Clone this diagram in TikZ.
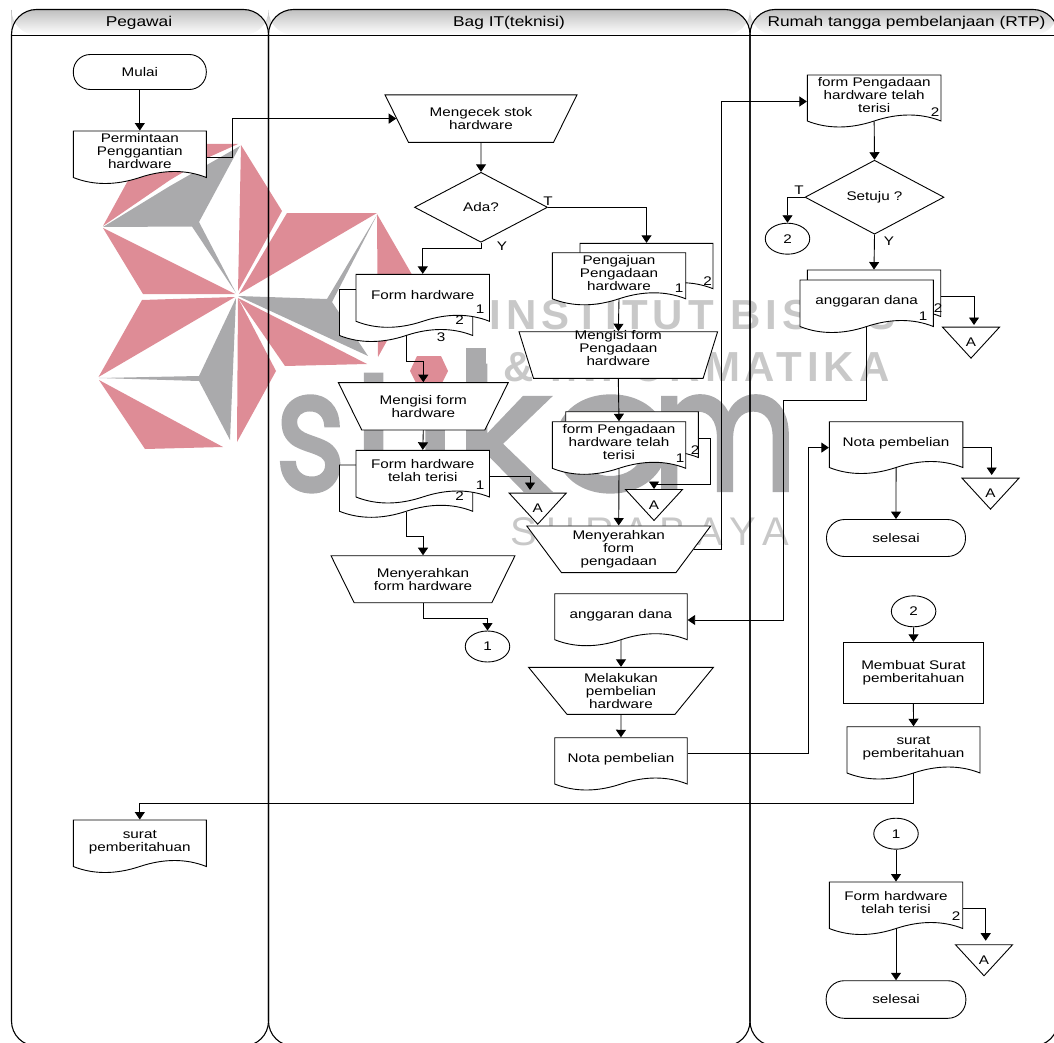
\documentclass[tikz,border=0pt]{standalone}
\usepackage{fontspec}
\setmainfont[FakeStretch=1.22]{Liberation Sans}
\newfontfamily\wmfont{Liberation Sans}
\newfontfamily\logofont[FakeBold=2.5]{Poppins}
\usetikzlibrary{shapes.geometric,arrows.meta}
\definecolor{wmpink}{RGB}{222,140,150}
\definecolor{wmgray}{RGB}{170,170,172}
\definecolor{wmlight}{RGB}{200,200,200}
\newcommand{\lift}[2]{\raisebox{#1pt}[5pt][5pt]{\begin{tabular}{@{}c@{}}#2\end{tabular}}}
\newcommand{\docnode}[6]{%
  \draw[fill=white] (#2,#3) -- (#2+#4,#3) -- (#2+#4,#5)
    .. controls (#2+.85*#4,#5-8) and (#2+.68*#4,#5-8) .. (#2+.5*#4,#5)
    .. controls (#2+.32*#4,#5+8) and (#2+.15*#4,#5+8) .. (#2,#5) -- cycle;
  \node[flowtext,minimum width=#4 pt,minimum height={(#5-#3)*1pt}] (#1) at (#2+.5*#4,{(#3+#5)/2}) {\lift{-2}{#6}};
}
\tikzset{
  flowtext/.style={inner sep=0pt,font=\fontsize{12.5}{13}\selectfont,align=center},
  headtext/.style={inner sep=0pt,font=\fontsize{14.2}{15}\selectfont},
  lane/.style={draw=black,line width=1.1pt,rounded corners=25pt},
  lanehead/.style={top color=black!25,bottom color=white,rounded corners=25pt},
  manual/.style={flowtext,draw,fill=white,trapezium,shape border rotate=180,trapezium stretches=true,trapezium left angle=53.3,trapezium right angle=53.3},
  decide/.style={flowtext,draw,fill=white,diamond,aspect=1.9},
  terminal/.style={flowtext,draw,fill=white,rounded corners=17pt,minimum width=133pt,minimum height=35pt},
  connect/.style={flowtext,draw,fill=white,ellipse,minimum width=44.5pt,minimum height=31pt},
  process/.style={flowtext,draw,fill=white},
  offpage/.style={flowtext,draw,fill=white,isosceles triangle,isosceles triangle stretches=true,shape border rotate=-90,minimum width=57pt,minimum height=31pt},
  arrow/.style={draw,-{Triangle[length=7.5pt,width=10pt]}}
}
\begin{document}
\begin{tikzpicture}[x=1pt,y=-1pt,line width=0.9pt]
  \useasboundingbox (0,0) rectangle (1054,1043);
  \clip (0,0) rectangle (1054,1043);

  % watermark star
  \fill[wmpink] (103,226) -- (148,144) -- (238,144) -- (207,158) -- (170,180) -- cycle;
  \fill[wmgray] (103,227) -- (170,186) -- (240,146) -- (199,222) -- (236,293) -- (192,226.5) -- cycle;
  \fill[wmpink] (103,228) -- (143,294) -- (235,294) -- cycle;
  \fill[wmpink] (241,145) -- (282,211) -- (238,291) -- cycle;
  \fill[wmpink] (287,213) -- (377,213) -- (239,294) -- cycle;
  \fill[wmpink] (377,214) -- (418,285) -- (378,357) -- cycle;
  \fill[wmgray] (238,296) -- (327,299) -- (377,215) -- (332,302) -- (368,356) -- cycle;
  \fill[wmpink] (238,298) -- (367,364) -- (285,366) -- cycle;
  \fill[wmpink] (238,298) -- (276,371) -- (237,442) -- cycle;
  \fill[wmgray] (236,298) -- (199,376) -- (99,378) -- (199,381) -- (230,440) -- cycle;
  \fill[wmpink] (142,300) -- (235,297) -- (98.5,377) -- cycle;
  \fill[wmpink] (99,380) -- (223,447) -- (145,449) -- cycle;
  \fill[wmpink] (417,356) -- (441,356) -- (448,371) -- (441,385) -- (417,385) -- (410,371) -- cycle;

  % watermark text
  \node[anchor=base west,inner sep=0pt,text=wmgray] (wmlogo) at (275,490) {\fontsize{168}{170}\logofont\scalebox{.8}[1]{s}\kern4pt t\kern4pt ı\kern-2pt \scalebox{1.1}[1]{k}\scalebox{1.15}[1]{o}\kern-21pt\scalebox{.84}[1]{m}};
  \fill[wmgray] (466,348) rectangle (486,372);
  \node[anchor=base west,inner sep=0pt,text=wmlight] (wmline1) at (489,329) {\fontsize{42}{44}\wmfont\bfseries\addfontfeature{LetterSpace=12}INSTITUT BISNIS};
  \node[anchor=base west,inner sep=0pt,text=wmlight] (wmline2) at (503,381) {\fontsize{42}{44}\wmfont\bfseries\addfontfeature{LetterSpace=11.5}\& INFORMATIKA};
  \node[anchor=base west,inner sep=0pt,text=wmlight] (wmline3) at (510,545) {\fontsize{40}{42}\wmfont\addfontfeature{LetterSpace=24}SURABAYA};

  % lanes
  \shade[lanehead] (11.5,35) -- (11.5,9.5) -- (268.5,9.5) -- (268.5,35) -- cycle;
  \shade[lanehead] (268.5,35) -- (268.5,9.5) -- (750,9.5) -- (750,35) -- cycle;
  \shade[lanehead] (750,35) -- (750,9.5) -- (1058,9.5) -- (1058,35) -- cycle;
  \draw[lane] (11.5,1046) -- (11.5,9.5) -- (268.5,9.5) -- (268.5,1046) -- cycle;
  \draw[lane] (268.5,1046) -- (268.5,9.5) -- (750,9.5) -- (750,1046) -- cycle;
  \draw[lane] (750,1046) -- (750,9.5) -- (1058,9.5) -- (1058,1046) -- cycle;
  \draw (11.5,35) -- (1058,35);
  \node[headtext] (headpeg) at (139,23) {Pegawai};
  \node[headtext] (headit) at (509,23) {Bag IT(teknisi)};
  \node[headtext] (headrtp) at (906.5,23) {Rumah tangga pembelanjaan (RTP)};

  % Pegawai
  \node[terminal] (mulai) at (139.8,72) {Mulai};
  \docnode{perm}{73.3}{131}{133}{177.5}{Permintaan\\Penggantian\\hardware}
  \docnode{suratpeg}{73.3}{820}{133}{866.5}{surat\\pemberitahuan}

  % Bag IT, left column
  \node[manual,minimum width=192pt,minimum height=47.5pt] (cek) at (481,118.6) {Mengecek stok\\hardware};
  \node[decide,minimum width=133pt,minimum height=70pt] (ada) at (481,207.3) {Ada?};
  \docnode{formc}{339.5}{289.5}{133.2}{335.5}{}
  \docnode{forma}{356}{274.3}{133.5}{321.3}{Form hardware}
  \node[flowtext] (forma1) at (480,309) {1};
  \node[flowtext] (forma2) at (459.5,320) {2};
  \node[flowtext] (forma3) at (441,337) {3};
  \node[manual,minimum width=170pt,minimum height=47.3pt] (isiform) at (423.3,406.3) {Mengisi form\\hardware};
  \docnode{telahb}{339.5}{465}{133.2}{511.3}{}
  \docnode{telaha}{356}{450.3}{133.5}{497}{Form hardware\\telah terisi}
  \node[flowtext] (telaha1) at (480,485) {1};
  \node[flowtext] (telaha2) at (459.5,496) {2};
  \node[offpage,anchor=lower side] (offa) at (537.7,492.7) {\lift{-9}{A}};
  \node[manual,minimum width=184.3pt,minimum height=47pt] (serah) at (423,579.2) {Menyerahkan\\form hardware};
  \node[connect] (sambung1) at (487.5,646.5) {1};

  % Bag IT, right column
  \docnode{ajub}{580}{243.3}{133}{288.7}{}
  \docnode{ajua}{552.3}{252.7}{133.4}{298.8}{Pengajuan\\Pengadaan\\hardware}
  \node[flowtext] (ajua1) at (679,288) {1};
  \node[flowtext] (ajua2) at (707.5,281) {2};
  \node[manual,minimum width=198.7pt,minimum height=46.6pt] (isipengadaan) at (618.3,355) {\lift{2}{Mengisi form\\Pengadaan\\hardware}};
  \docnode{terisib}{565.7}{411.7}{132.6}{457.5}{}
  \docnode{terisia}{552.3}{421.7}{133.4}{468.3}{form Pengadaan\\hardware telah\\terisi}
  \node[flowtext] (terisia1) at (680,458) {1};
  \node[flowtext] (terisia2) at (695,450) {2};
  \node[offpage,anchor=lower side] (offb) at (654,489) {\lift{-9}{A}};
  \node[manual,minimum width=184pt,minimum height=46.7pt] (serahform) at (618.7,549.3) {Menyerahkan\\form\\pengadaan};
  \docnode{dana}{554.7}{593.7}{132.5}{639.7}{anggaran dana}
  \node[manual,minimum width=185pt,minimum height=47pt] (beli) at (621,690.8) {Melakukan\\pembelian\\hardware};
  \docnode{nota}{554.7}{737.7}{132.5}{784}{Nota pembelian}

  % RTP
  \docnode{formrtp}{807.3}{75}{133.7}{121}{form Pengadaan\\hardware telah\\terisi}
  \node[flowtext] (formrtp2) at (935,112) {2};
  \node[decide,minimum width=139pt,minimum height=74pt] (setuju) at (874.5,197.2) {Setuju ?};
  \node[connect] (sambung2) at (787.5,238.7) {2};
  \docnode{danab}{807.3}{270}{133.4}{316.5}{}
  \docnode{danaa}{800}{280}{133.3}{326.5}{anggaran dana}
  \node[flowtext] (danaa1) at (923,316) {1};
  \node[flowtext] (danaa2) at (938,308) {2};
  \node[offpage,anchor=lower side] (offc) at (971,326.7) {\lift{-9}{A}};
  \docnode{notartp}{829.3}{421.7}{133.5}{467.5}{Nota pembelian}
  \node[offpage,anchor=lower side] (offd) at (990.5,477.7) {\lift{-9}{A}};
  \node[terminal,minimum width=139pt,minimum height=37pt,rounded corners=18pt] (selesaia) at (896,538) {selesai};
  \node[connect] (sambung3) at (913.6,611.3) {2};
  \node[process,minimum width=139.6pt,minimum height=61pt] (buat) at (913.4,672.8) {Membuat Surat\\pemberitahuan};
  \docnode{surat}{847}{726.7}{133}{773}{surat\\pemberitahuan}
  \node[connect] (sambung4) at (896,833.7) {1};
  \docnode{formakhir}{829.3}{882}{133.4}{928.5}{Form hardware\\telah terisi}
  \node[flowtext] (formakhir2) at (956,916) {2};
  \node[offpage,anchor=lower side] (offe) at (984,944.3) {\lift{-9}{A}};
  \node[terminal,minimum width=139.7pt,minimum height=37.6pt,rounded corners=18pt] (selesaib) at (896,999.5) {selesai};

  % labels
  \node[flowtext] (ltada) at (548,201) {T};
  \node[flowtext] (lyada) at (502,246) {Y};
  \node[flowtext] (ltsetuju) at (799,190) {T};
  \node[flowtext] (lysetuju) at (889,241) {Y};

  % connectors
  \draw[arrow] (mulai.south) -- (perm.north);
  \draw[arrow] ([yshift=-3.5pt]perm.east) -- ++(26,0) |- (cek.west);
  \draw[arrow] (cek.south) -- (ada.north);
  \draw[arrow] (ada.south) -- ++(0,6) -| (forma.north);
  \draw[arrow] (ada.east) -| (ajub.north);
  \draw[arrow] (formc.south) -- ++(0,25) -| (isiform.north);
  \draw[arrow] (isiform.south) -- (telaha.north);
  \draw[arrow] ([yshift=-3pt]telaha.east) -| ([xshift=-7.7pt,yshift=2.7pt]offa.lower side);
  \draw[arrow] (telahb.south) -- ++(0,25) -| (serah.north);
  \draw[arrow] (serah.south) -- ++(0,15) -| (sambung1.north);
  \draw[arrow] (ajua.south) -- (isipengadaan.north);
  \draw[arrow] (isipengadaan.south) -- (terisia.north);
  \draw[arrow] ([yshift=-3.6pt]terisib.east) -- ++(12,0) -- ++(0,46) -| (offb.lower side);
  \draw[arrow] (terisia.south) -- (serahform.north);
  \draw[arrow] (serahform.east) -- ++(28,0) |- ([yshift=-3.5pt]formrtp.west);
  \draw[arrow] (formrtp.south) -- (setuju.north);
  \draw[arrow] (setuju.west) -| (sambung2.north);
  \draw[arrow] (setuju.south) -- (danab.north);
  \draw[arrow] ([yshift=-3.4pt]danab.east) -| ([xshift=3pt,yshift=1.7pt]offc.lower side);
  \draw[arrow] (danaa.south) -- ++(0,73) -- ++(-83.7,0) |- ([yshift=-3.3pt]dana.east);
  \draw[arrow] (dana.south) -- (beli.north);
  \draw[arrow] (beli.south) -- (nota.north);
  \draw[arrow] ([yshift=7.7pt]nota.east) -- ++(120.6,0) |- ([yshift=-3pt]notartp.west);
  \draw[arrow] ([yshift=-3pt]notartp.east) -| ([xshift=1.2pt,yshift=2.7pt]offd.lower side);
  \draw[arrow] (notartp.south) -- (selesaia.north);
  \draw[arrow] (sambung3.south) -- (buat.north);
  \draw[arrow] (buat.south) -- (surat.north);
  \draw[arrow] (surat.south) -- ++(0,29.7) -| (suratpeg.north);
  \draw[arrow] (sambung4.south) -- (formakhir.north);
  \draw[arrow] ([yshift=-3pt]formakhir.east) -| ([xshift=1.7pt,yshift=3.6pt]offe.lower side);
  \draw[arrow] (formakhir.south) -- (selesaib.north);
\end{tikzpicture}
\end{document}
